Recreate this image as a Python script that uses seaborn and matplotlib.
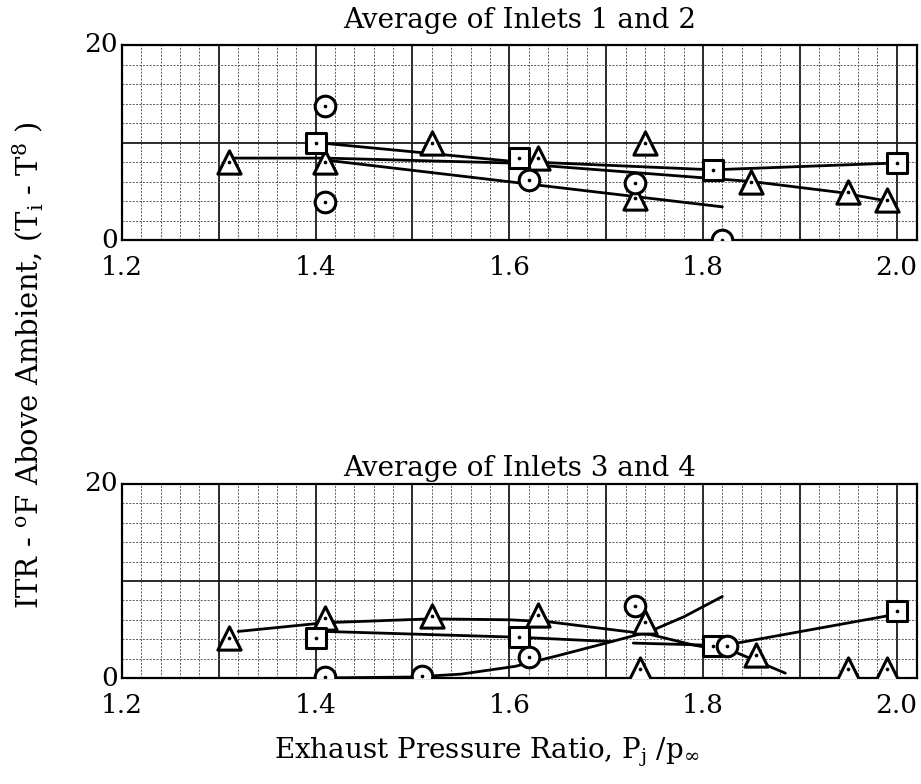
import matplotlib
matplotlib.use("Agg")
import matplotlib.pyplot as plt
import seaborn as sns
import pandas as pd
import numpy as np

# ---------------- data ----------------
x_ticks = [1.2, 1.4, 1.6, 1.8, 2.0]
x_tick_labels = ["1.2", "1.4", "1.6", "1.8", "2.0"]
y_ticks = [0, 20]
y_tick_labels = ["0", "20"]

title_top = "Average of Inlets 1 and 2"
title_bot = "Average of Inlets 3 and 4"

# Inlets 1 and 2 : measured points
tri_x1 = [1.31, 1.41, 1.52, 1.63, 1.74, 1.73, 1.85, 1.95, 1.99]
tri_y1 = [8.0, 8.0, 10.0, 8.4, 9.9, 4.3, 6.0, 4.9, 4.1]
sq_x1 = [1.40, 1.61, 1.81, 2.00]
sq_y1 = [10.0, 8.4, 7.2, 7.9]
cir_x1 = [1.41, 1.41, 1.62, 1.73, 1.82]
cir_y1 = [13.7, 3.9, 6.2, 5.8, 0.0]

# Inlets 1 and 2 : faired curves
tri_fit_x1 = [1.31, 1.41, 1.60, 1.85, 1.94, 1.99]
tri_fit_y1 = [8.4, 8.4, 7.9, 6.0, 4.9, 4.0]
sq_fit_x1 = [1.40, 1.60, 1.81, 2.00]
sq_fit_y1 = [10.0, 8.1, 7.2, 7.9]
cir_fit_x1 = [1.41, 1.82]
cir_fit_y1 = [8.2, 3.4]

# Inlets 3 and 4 : measured points
tri_x2 = [1.31, 1.41, 1.52, 1.63, 1.74, 1.735, 1.855, 1.95, 1.99]
tri_y2 = [4.1, 6.2, 6.4, 6.5, 5.8, 0.9, 2.4, 0.9, 0.9]
sq_x2 = [1.40, 1.61, 1.81, 2.00]
sq_y2 = [4.1, 4.2, 3.3, 6.9]
cir_x2 = [1.41, 1.51, 1.62, 1.73, 1.825]
cir_y2 = [0.1, 0.2, 2.2, 7.4, 3.3]

# Inlets 3 and 4 : faired curves
tri_fit_x2 = [1.32, 1.41, 1.52, 1.60, 1.64, 1.745, 1.79, 1.835, 1.885]
tri_fit_y2 = [4.8, 5.7, 6.1, 6.0, 5.8, 4.5, 3.4, 2.6, 0.5]
sq_fit_x2 = [1.41, 1.61, 1.706, 1.728, 1.80, 1.835, 1.99]
sq_fit_y2 = [4.8, 4.2, 3.75, 3.6, 3.4, 3.6, 6.4]
sq_fit_seg2 = [0, 0, 0, 1, 1, 2, 2]
cir_fit_x2 = [1.40, 1.50, 1.55, 1.606, 1.65, 1.70, 1.745, 1.78, 1.82]
cir_fit_y2 = [0.0, 0.1, 0.4, 1.2, 2.3, 3.6, 4.8, 6.3, 8.4]

# ---------------- style ----------------
sns.set_theme(style="white")
plt.rcParams["font.family"] = ["DejaVu Serif"]
plt.rcParams["mathtext.fontset"] = "dejavuserif"
plt.rcParams["text.color"] = "black"
plt.rcParams["axes.titlecolor"] = "black"

fig = plt.figure(figsize=(9.21, 7.84), dpi=100)
W, H = 921, 784
def rect(l, t, r, b):
    return [l / W, 1 - b / H, (r - l) / W, (b - t) / H]

ax1 = fig.add_axes(rect(122, 45, 917, 240))
ax2 = fig.add_axes(rect(122, 484, 917, 678))

def style_axes(ax, title, tpad):
    ax.set_xlim(1.2, 2.021)
    ax.set_ylim(0, 20)
    ax.set_xticks(np.arange(1.2, 2.0301, 0.1), minor=False)
    ax.set_xticks(np.arange(1.2, 2.0301, 0.02), minor=True)
    ax.set_yticks([0, 10, 20])
    ax.set_yticks(np.arange(0, 20.1, 2), minor=True)
    ax.grid(which="minor", color="0.35", lw=0.7, ls=(0, (2.0, 1.5)))
    ax.grid(which="major", color="0.1", lw=1.3, ls="-")
    ax.set_axisbelow(True)
    ax.set_xticklabels([])
    ax.set_yticklabels([])
    ax.tick_params(which="both", length=0)
    for s in ax.spines.values():
        s.set_color("black")
        s.set_linewidth(1.6)
    for xv, lab in zip(x_ticks, x_tick_labels):
        ax.annotate(lab, (xv, 0), xycoords=("data", "axes fraction"),
                    xytext=(0, -11), textcoords="offset points",
                    ha="center", va="top", fontsize=19)
    for yv, lab in zip(y_ticks, y_tick_labels):
        ax.annotate(lab, (0, yv), xycoords=("axes fraction", "data"),
                    xytext=(-3, 0), textcoords="offset points",
                    ha="right", va="center", fontsize=19)
    ax.set_xlabel("")
    ax.set_ylabel("")
    ax.set_title(title, fontsize=20, pad=tpad, color="black")

def draw(ax, pts, curves):
    for (xs, ys, seg) in curves:
        df = pd.DataFrame({"x": xs, "y": ys, "seg": seg})
        sns.lineplot(data=df, x="x", y="y", units="seg", estimator=None,
                     sort=False, color="black", lw=2.0, ax=ax, legend=False)
    for (xs, ys, mk, s) in pts:
        df = pd.DataFrame({"x": xs, "y": ys})
        sns.scatterplot(data=df, x="x", y="y", marker=mk, s=s,
                        facecolor="white", edgecolor="black", linewidth=2.2,
                        ax=ax, legend=False, zorder=5)
        sns.scatterplot(data=df, x="x", y="y", marker="o", s=7,
                        color="black", linewidth=0, ax=ax, legend=False,
                        zorder=6)

draw(ax1,
     [(tri_x1, tri_y1, "^", 280), (sq_x1, sq_y1, "s", 200), (cir_x1, cir_y1, "o", 220)],
     [(tri_fit_x1, tri_fit_y1, [0] * len(tri_fit_x1)),
      (sq_fit_x1, sq_fit_y1, [0] * len(sq_fit_x1)),
      (cir_fit_x1, cir_fit_y1, [0] * len(cir_fit_x1))])
draw(ax2,
     [(tri_x2, tri_y2, "^", 280), (sq_x2, sq_y2, "s", 200), (cir_x2, cir_y2, "o", 220)],
     [(tri_fit_x2, tri_fit_y2, [0] * len(tri_fit_x2)),
      (sq_fit_x2, sq_fit_y2, sq_fit_seg2),
      (cir_fit_x2, cir_fit_y2, [0] * len(cir_fit_x2))])

style_axes(ax1, title_top, 12)
style_axes(ax2, title_bot, 6)

fig.text(487 / W, 1 - 752 / H, r"Exhaust Pressure Ratio, P$_\mathrm{j}$ /p$_\infty$",
         ha="center", va="center", fontsize=20)
fig.text(28 / W, 1 - 365 / H, r"ITR - $^\mathrm{o}$F Above Ambient, (T$_\mathrm{i}$ - T$^8$ )",
         ha="center", va="center", rotation=90, fontsize=21)

fig.savefig("out.png", dpi=100)
